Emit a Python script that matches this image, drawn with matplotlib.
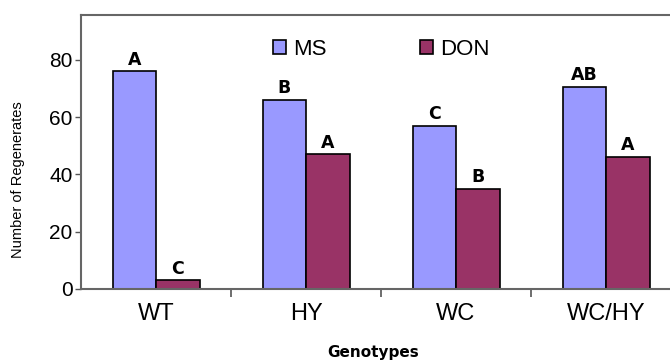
import numpy as np
import matplotlib
matplotlib.use("Agg")
import matplotlib.pyplot as plt

# data
genotypes = ["WT", "HY", "WC", "WC/HY"]
ms_values = [76, 66, 57, 70.5]
don_values = [3, 47, 35, 46]
ms_letters = ["A", "B", "C", "AB"]
don_letters = ["C", "A", "B", "A"]

ms_color = "#9999FF"
don_color = "#993366"

plt.rcParams["font.family"] = ["Liberation Sans", "DejaVu Sans"]

fig = plt.figure(figsize=(6.7, 3.6), dpi=100)
ax = fig.add_axes([81 / 670, 1 - 289 / 360, 600 / 670, 274 / 360])

x = np.arange(len(genotypes))
w = 0.29
ax.bar(x - w / 2, ms_values, w, color=ms_color, edgecolor="black", linewidth=1.2, label="MS")
ax.bar(x + w / 2, don_values, w, color=don_color, edgecolor="black", linewidth=1.2, label="DON")

# significance letters
for xi, v, t in zip(x - w / 2, ms_values, ms_letters):
    ax.text(xi, v + 1.0, t, ha="center", va="bottom", fontsize=12.5,
            fontweight="bold", family="DejaVu Sans")
for xi, v, t in zip(x + w / 2, don_values, don_letters):
    ax.text(xi, v + 1.0, t, ha="center", va="bottom", fontsize=12.5,
            fontweight="bold", family="DejaVu Sans")

ax.set_xlim(-0.5, 3.5)
ax.set_ylim(0, 95.7)
ax.set_yticks([0, 20, 40, 60, 80])
ax.tick_params(axis="y", labelsize=15, length=4, width=1, color="#555555", pad=2)
ax.set_xticks(x)
ax.set_xticklabels(genotypes, fontsize=17)
ax.tick_params(axis="x", which="major", length=0, pad=10)
ax.set_xticks([0.5, 1.5, 2.5], minor=True)
ax.tick_params(axis="x", which="minor", length=6, width=1.2, color="#555555")

for s in ax.spines.values():
    s.set_color("#666666")
    s.set_linewidth(1.5)

ax.legend(loc="upper center", bbox_to_anchor=(0.5, 0.985), ncol=2, frameon=False,
          fontsize=16, handlelength=0.6, handleheight=0.6, handletextpad=0.3,
          columnspacing=4.2, borderaxespad=0.5)

fig.text(18 / 670, 1 - 180 / 360, "Number of Regenerates", rotation=90,
         ha="center", va="center", fontsize=10.5,
         family=["Liberation Sans Narrow", "Liberation Sans"])
fig.text(373 / 670, 1 - 352 / 360, "Genotypes", ha="center", va="center",
         fontsize=11, fontweight="bold", family="DejaVu Sans")

fig.savefig("out.png", dpi=100)
